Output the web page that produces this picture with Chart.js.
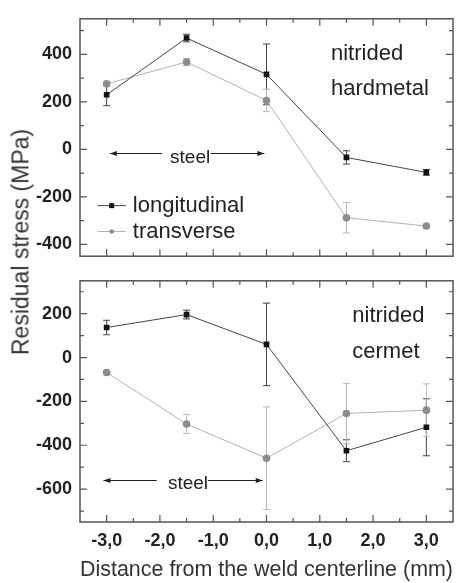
<!DOCTYPE html>
<html lang="en">
<head>
  <meta charset="UTF-8">
  <title>Residual stress</title>
  <script src="https://cdn.jsdelivr.net/npm/chart.js"></script>
  <style>
    body { margin: 0; background: #fff; overflow: hidden; font-family: "Liberation Sans", Arial, sans-serif; }
    .wrap { position: relative; width: 461px; height: 583px; }
    #top { position: absolute; left: 0; top: 0; }
    #bottom { position: absolute; left: 0; top: 262px; }
    .ytitle { position: absolute; left: 21px; top: 242px; transform: translate(-50%, -50%) rotate(-90deg);
      white-space: nowrap; font-size: 23px; color: #333; }
  </style>
</head>
<body>
  <div class="wrap">
    <canvas id="top" width="461" height="275"></canvas>
    <canvas id="bottom" width="461" height="321"></canvas>
    <div class="ytitle">Residual stress (MPa)</div>
  </div>
  <script>
    // positions across the weld (mm)
    const xPos = [-3, -1.5, 0, 1.5, 3];
    const xTickValues = [-3, -2, -1, 0, 1, 2, 3];
    const xTickLabels = ['-3,0', '-2,0', '-1,0', '0,0', '1,0', '2,0', '3,0'];

    // nitrided hardmetal
    const hmLong = [230, 469, 316, -34, -97];
    const hmLongErr = [46, 16, 128, 28, 12];
    const hmTrans = [276, 368, 206, -288, -323];
    const hmTransErr = [10, 15, 47, 64, 8];
    const hmYTicks = [-400, -200, 0, 200, 400];

    // nitrided cermet
    const ceLong = [137, 196, 60, -425, -318];
    const ceLongErr = [33, 20, 188, 50, 130];
    const ceTrans = [-68, -303, -459, -255, -240];
    const ceTransErr = [10, 43, 234, 137, 120];
    const ceYTicks = [-600, -400, -200, 0, 200];

    const FONT = '"Liberation Sans", Arial, sans-serif';

    function withMinors(majors, min, max) {
      const step = majors[1] - majors[0];
      const all = [];
      majors.forEach(v => { all.push(v - step / 2, v, v + step / 2); });
      return [...new Set(all)].filter(v => v > min && v < max).sort((a, b) => a - b);
    }

    function labelFor(majors, labels) {
      return (v) => {
        const i = majors.findIndex(m => Math.abs(m - v) < 1e-6);
        return i >= 0 ? labels[i] : '';
      };
    }

    // frame with inward ticks on all four sides
    const frameTicks = {
      id: 'frameTicks',
      afterDraw(chart) {
        const { ctx, chartArea: a, scales: { x, y } } = chart;
        ctx.save();
        ctx.strokeStyle = '#555';
        ctx.lineWidth = 1.5;
        ctx.strokeRect(a.left, a.top, a.right - a.left, a.bottom - a.top);
        ctx.lineWidth = 1.2;
        ctx.beginPath();
        x.ticks.forEach(t => {
          const px = x.getPixelForValue(t.value);
          const len = t.label ? 7 : 4;
          ctx.moveTo(px, a.bottom); ctx.lineTo(px, a.bottom - len);
          ctx.moveTo(px, a.top); ctx.lineTo(px, a.top + len);
        });
        y.ticks.forEach(t => {
          const py = y.getPixelForValue(t.value);
          const len = t.label ? 7 : 4;
          ctx.moveTo(a.left, py); ctx.lineTo(a.left + len, py);
          ctx.moveTo(a.right, py); ctx.lineTo(a.right - len, py);
        });
        ctx.stroke();
        ctx.restore();
      }
    };

    const errorBars = {
      id: 'errorBars',
      beforeDatasetsDraw(chart) {
        const { ctx, scales: { x, y } } = chart;
        chart.data.datasets.forEach(ds => {
          if (!ds.errors) return;
          ctx.save();
          ctx.strokeStyle = ds.errorColor;
          ctx.lineWidth = 1;
          ctx.beginPath();
          ds.data.forEach((p, i) => {
            const px = x.getPixelForValue(p.x);
            const y1 = y.getPixelForValue(p.y + ds.errors[i]);
            const y2 = y.getPixelForValue(p.y - ds.errors[i]);
            ctx.moveTo(px, y1); ctx.lineTo(px, y2);
            ctx.moveTo(px - 3.5, y1); ctx.lineTo(px + 3.5, y1);
            ctx.moveTo(px - 3.5, y2); ctx.lineTo(px + 3.5, y2);
          });
          ctx.stroke();
          ctx.restore();
        });
      }
    };

    // texts, arrows and the small legend, placed in data coordinates
    const notes = {
      id: 'notes',
      afterDraw(chart, args, opts) {
        const { ctx, scales: { x, y } } = chart;
        ctx.save();
        ctx.fillStyle = '#222';
        ctx.textBaseline = 'alphabetic';
        (opts.texts || []).forEach(t => {
          ctx.font = t.size + 'px ' + FONT;
          ctx.fillText(t.text, x.getPixelForValue(t.x), y.getPixelForValue(t.y));
        });
        ctx.strokeStyle = '#222';
        ctx.lineWidth = 1;
        (opts.arrows || []).forEach(ar => {
          const py = Math.round(y.getPixelForValue(ar.y)) + 0.5;
          const x1 = x.getPixelForValue(ar.x1), x2 = x.getPixelForValue(ar.x2);
          ctx.beginPath(); ctx.moveTo(x1, py); ctx.lineTo(x2, py); ctx.stroke();
          const tip = ar.dir < 0 ? x1 : x2, d = ar.dir < 0 ? 7 : -7;
          ctx.beginPath();
          ctx.moveTo(tip, py); ctx.lineTo(tip + d, py - 2.5); ctx.lineTo(tip + d, py + 2.5);
          ctx.closePath(); ctx.fillStyle = '#222'; ctx.fill();
        });
        if (opts.legend) {
          chart.data.datasets.forEach((ds, i) => {
            const it = opts.legend[i];
            const py = y.getPixelForValue(it.y);
            const x1 = x.getPixelForValue(it.x1), x2 = x.getPixelForValue(it.x2);
            ctx.strokeStyle = ds.borderColor;
            ctx.beginPath(); ctx.moveTo(x1, py); ctx.lineTo(x2, py); ctx.stroke();
            ctx.fillStyle = ds.pointBackgroundColor;
            const mx = (x1 + x2) / 2;
            if (ds.pointStyle === 'rect') ctx.fillRect(mx - 2.5, py - 2.5, 5, 5);
            else { ctx.beginPath(); ctx.arc(mx, py, 2.3, 0, Math.PI * 2); ctx.fill(); }
            ctx.fillStyle = '#222';
            ctx.font = '22px ' + FONT;
            ctx.textBaseline = 'middle';
            ctx.fillText(ds.label, x2 + 7, py);
          });
        }
        ctx.restore();
      }
    };

    function series(label, ys, errs, dark) {
      return {
        label,
        data: xPos.map((x, i) => ({ x, y: ys[i] })),
        errors: errs,
        borderColor: dark ? '#444' : '#b3b3b3',
        errorColor: dark ? '#444' : '#b8b8b8',
        borderWidth: 1,
        pointStyle: dark ? 'rect' : 'circle',
        pointRadius: dark ? 4 : 3.8,
        pointBackgroundColor: dark ? '#111' : '#8c8c8c',
        pointBorderColor: dark ? '#111' : '#8c8c8c',
        pointBorderWidth: 0,
        tension: 0
      };
    }

    function makeChart(id, longVals, longErr, transVals, transErr, yMajors, yMin, yMax, bottom, notesOpts) {
      const xAll = withMinors(xTickValues, -3.5, 3.5);
      const yAll = withMinors(yMajors, yMin, yMax);
      return new Chart(document.getElementById(id), {
        type: 'line',
        data: { datasets: [
          series('longitudinal', longVals, longErr, true),
          series('transverse', transVals, transErr, false)
        ] },
        options: {
          responsive: false,
          animation: false,
          layout: { padding: { top: bottom ? 13 : 14, right: 8, left: 0, bottom: 0 } },
          plugins: { legend: { display: false }, tooltip: { enabled: false }, notes: notesOpts },
          scales: {
            x: {
              type: 'linear', min: -3.5, max: 3.5,
              afterBuildTicks: s => { s.ticks = xAll.map(v => ({ value: v })); },
              afterFit: s => { s.height = bottom ? 61 : 14; },
              grid: { display: false, drawTicks: false },
              border: { display: false },
              ticks: {
                display: bottom, autoSkip: false, maxRotation: 0, padding: 8,
                color: '#222', font: { family: FONT, size: 18, weight: 'bold' },
                callback: labelFor(xTickValues, xTickLabels)
              },
              title: {
                display: bottom, text: 'Distance from the weld centerline (mm)',
                color: '#333', font: { family: FONT, size: 22 }, padding: { top: 0, bottom: 0 }
              }
            },
            y: {
              min: yMin, max: yMax,
              afterBuildTicks: s => { s.ticks = yAll.map(v => ({ value: v })); },
              afterFit: s => { s.width = 80; },
              grid: { display: false, drawTicks: false },
              border: { display: false },
              ticks: {
                autoSkip: false, padding: 8, color: '#222',
                font: { family: FONT, size: 18, weight: 'bold' },
                callback: labelFor(yMajors, yMajors.map(String))
              }
            }
          }
        },
        plugins: [errorBars, frameTicks, notes]
      });
    }

    makeChart('top', hmLong, hmLongErr, hmTrans, hmTransErr, hmYTicks, -450, 550, false, {
      texts: [
        { text: 'nitrided', x: 1.21, y: 377, size: 22 },
        { text: 'hardmetal', x: 1.21, y: 231, size: 22 },
        { text: 'steel', x: -1.81, y: -56, size: 19 }
      ],
      arrows: [
        { x1: -2.94, x2: -1.96, y: -16, dir: -1 },
        { x1: -1.05, x2: -0.04, y: -16, dir: 1 }
      ],
      legend: [
        { x1: -3.17, x2: -2.64, y: -237 },
        { x1: -3.17, x2: -2.64, y: -346 }
      ]
    });

    makeChart('bottom', ceLong, ceLongErr, ceTrans, ceTransErr, ceYTicks, -750, 350, true, {
      texts: [
        { text: 'nitrided', x: 1.61, y: 162, size: 22 },
        { text: 'cermet', x: 1.61, y: 0, size: 22 },
        { text: 'steel', x: -1.85, y: -598, size: 19 }
      ],
      arrows: [
        { x1: -3.06, x2: -2.06, y: -558, dir: -1 },
        { x1: -1.1, x2: -0.07, y: -558, dir: 1 }
      ]
    });
  </script>
</body>
</html>
